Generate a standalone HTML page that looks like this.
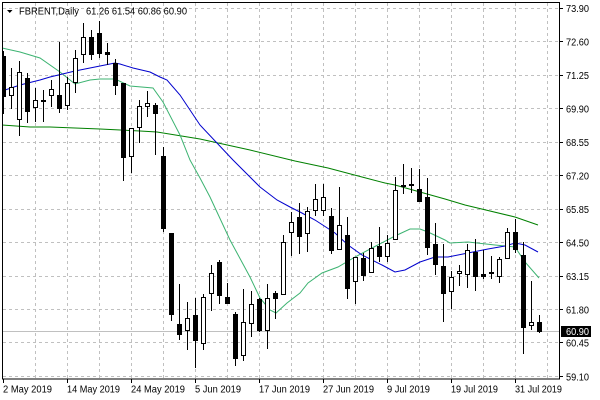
<!DOCTYPE html>
<html><head><meta charset="utf-8"><style>
html,body{margin:0;padding:0;background:#fff;}
svg{display:block;}
text{font-family:"Liberation Sans",sans-serif;font-size:10px;fill:#000;}
</style></head><body>
<svg width="600" height="400" viewBox="0 0 600 400" xmlns="http://www.w3.org/2000/svg">
<defs><clipPath id="pc"><rect x="2" y="2" width="557.5" height="377"/></clipPath></defs>
<rect x="0" y="0" width="600" height="400" fill="#fff"/>
<!-- grid -->
<g stroke="#c0c0c0" stroke-width="1" stroke-dasharray="3,3" fill="none">
<path d="M35.5 3V379M67.5 3V379M99.5 3V379M131.5 3V379M163.5 3V379M195.5 3V379M227.5 3V379M259.5 3V379M291.5 3V379M323.5 3V379M355.5 3V379M387.5 3V379M419.5 3V379M451.5 3V379M483.5 3V379M515.5 3V379M547.5 3V379"/>
<path d="M3 8.5H559M3 41.5H559M3 75.5H559M3 108.5H559M3 142.5H559M3 175.5H559M3 209.5H559M3 242.5H559M3 276.5H559M3 309.5H559M3 342.5H559M3 376.5H559"/>
</g>
<!-- current price line -->
<path d="M3 331.5H559" stroke="#c0c0c0" stroke-width="1"/>
<g clip-path="url(#pc)">
<!-- MAs -->
<polyline fill="none" stroke="#008000" stroke-width="1" points="2,125 30,127 50,127 100,129 140,131 157,132 200,139 250,150 295,161 328,168 362,177 385,183 395,185 420,192 445,199 465,205 515,217 538,225"/>
<polyline fill="none" stroke="#3cb371" stroke-width="1" points="2,48 20,52 40,58 60,72 75,84 90,80 100,79 115,79 130,86 153,88 163,102 180,135 190,160 200,178 210,197 230,240 250,277 260,298 270,310 276,313 287,303 300,293 308,283 322,273 338,267 355,257 372,248 395,236 410,229 420,229 428,232 445,240 450,243 468,242 495,245 515,247 525,262 539,278"/>
<polyline fill="none" stroke="#0000cd" stroke-width="1" points="2,91 20,85 40,80 50,77 75,71 100,66 115,63 120,64 133,68 150,72 160,77 167,80 180,95 200,125 233,160 260,187 277,200 290,207 300,212 315,220 335,233 348,245 362,255 382,265 395,272 405,270 420,262 435,257 448,257 468,253 488,249 505,246 515,243 525,245 538,252"/>
<!-- wicks -->
<path stroke="#000" stroke-width="1" fill="none" d="M3.5 51V114M11.5 68V109M19.5 61V136M27.5 73V123M35.5 88V122M43.5 90V122M51.5 80V107M59.5 42V113M67.5 77V110M75.5 50V93M83.5 23V63M91.5 30V60M99.5 21V58M107.5 43V65M115.5 59V95M123.5 83V181M131.5 128V173M139.5 100V143M147.5 91V117M155.5 103V155M163.5 147V232M171.5 233V321M179.5 284V340M187.5 302V350M195.5 298V368M203.5 294V350M211.5 265V311M219.5 260V304M227.5 283V304M235.5 312V366M243.5 289V361M251.5 291V337M259.5 298V332M267.5 284V349M275.5 291V319M283.5 235V295M291.5 212V256M299.5 203V254M307.5 207V252M315.5 184V216M323.5 184V216M331.5 208V254M339.5 187V250M347.5 217V299M355.5 257V304M363.5 253V281M371.5 242V273M379.5 227V262M387.5 235V262M395.5 177V240M403.5 164V194M411.5 168V193M419.5 169V202M427.5 178V255M435.5 223V275M443.5 244V322M451.5 271V309M459.5 265V286M467.5 244V288M475.5 239V291M483.5 250V279M491.5 256V279M499.5 257V283M507.5 228V259M515.5 219V253M523.5 242V354M531.5 281V330M539.5 315V333"/>
<!-- black bodies -->
<path fill="#000" d="M1 56h5v41h-5zM25 78h5v34h-5zM41 100h5v2h-5zM57 95h5v14h-5zM89 37h5v18h-5zM97 33h5v21h-5zM105 52h5v3h-5zM113 63h5v23h-5zM121 83h5v75h-5zM153 105h5v9h-5zM161 156h5v73h-5zM169 233h5v82h-5zM177 324h5v11h-5zM193 315h5v26h-5zM217 262h5v34h-5zM225 297h5v7h-5zM233 314h5v45h-5zM257 299h5v32h-5zM273 293h5v6h-5zM297 217h5v20h-5zM329 216h5v35h-5zM345 235h5v54h-5zM361 258h5v18h-5zM377 246h5v11h-5zM401 185h5v2h-5zM409 184h5v2h-5zM417 189h5v13h-5zM425 197h5v51h-5zM433 244h5v21h-5zM441 266h5v28h-5zM473 252h5v25h-5zM481 274h5v3h-5zM489 272h5v2h-5zM513 232h5v18h-5zM521 255h5v73h-5zM537 322h5v10h-5z"/>
<!-- hollow bodies -->
<g fill="#fff" stroke="#000" stroke-width="1">
<rect x="9.5" y="87.5" width="4" height="8"/>
<rect x="17.5" y="72.5" width="4" height="47"/>
<rect x="33.5" y="100.5" width="4" height="7"/>
<rect x="49.5" y="89.5" width="4" height="6"/>
<rect x="65.5" y="83.5" width="4" height="22"/>
<rect x="73.5" y="58.5" width="4" height="24"/>
<rect x="81.5" y="37.5" width="4" height="17"/>
<rect x="129.5" y="128.5" width="4" height="28"/>
<rect x="137.5" y="106.5" width="4" height="21"/>
<rect x="145.5" y="103.5" width="4" height="3"/>
<rect x="185.5" y="318.5" width="4" height="12"/>
<rect x="201.5" y="297.5" width="4" height="46"/>
<rect x="209.5" y="273.5" width="4" height="20"/>
<rect x="241.5" y="322.5" width="4" height="33"/>
<rect x="249.5" y="304.5" width="4" height="19"/>
<rect x="265.5" y="298.5" width="4" height="32"/>
<rect x="281.5" y="242.5" width="4" height="52"/>
<rect x="289.5" y="222.5" width="4" height="10"/>
<rect x="305.5" y="211.5" width="4" height="22"/>
<rect x="313.5" y="199.5" width="4" height="11"/>
<rect x="321.5" y="197.5" width="4" height="13"/>
<rect x="337.5" y="225.5" width="4" height="24"/>
<rect x="353.5" y="257.5" width="4" height="24"/>
<rect x="369.5" y="248.5" width="4" height="24"/>
<rect x="385.5" y="243.5" width="4" height="13"/>
<rect x="393.5" y="190.5" width="4" height="49"/>
<rect x="449.5" y="277.5" width="4" height="14"/>
<rect x="457.5" y="271.5" width="4" height="2"/>
<rect x="465.5" y="250.5" width="4" height="24"/>
<rect x="497.5" y="259.5" width="4" height="17"/>
<rect x="505.5" y="232.5" width="4" height="26"/>
<rect x="529.5" y="322.5" width="4" height="3"/>
</g>
</g>
<!-- border -->
<rect x="2.5" y="2.5" width="557" height="376.5" fill="none" stroke="#000" stroke-width="1"/>
<!-- right ticks -->
<path stroke="#000" stroke-width="1" d="M560 8.5h3M560 41.5h3M560 75.5h3M560 108.5h3M560 142.5h3M560 175.5h3M560 209.5h3M560 242.5h3M560 276.5h3M560 309.5h3M560 342.5h3M560 376.5h3"/>
<!-- bottom ticks -->
<path stroke="#000" stroke-width="1" d="M3.5 379v4M67.5 379v4M131.5 379v4M195.5 379v4M259.5 379v4M323.5 379v4M387.5 379v4M451.5 379v4M515.5 379v4"/>
<!-- right labels -->
<text x="566" y="12" textLength="23" lengthAdjust="spacingAndGlyphs">73.90</text>
<text x="566" y="45.5" textLength="23" lengthAdjust="spacingAndGlyphs">72.60</text>
<text x="566" y="79" textLength="23" lengthAdjust="spacingAndGlyphs">71.25</text>
<text x="566" y="112.5" textLength="23" lengthAdjust="spacingAndGlyphs">69.90</text>
<text x="566" y="146" textLength="23" lengthAdjust="spacingAndGlyphs">68.55</text>
<text x="566" y="179.5" textLength="23" lengthAdjust="spacingAndGlyphs">67.20</text>
<text x="566" y="213" textLength="23" lengthAdjust="spacingAndGlyphs">65.85</text>
<text x="566" y="246.5" textLength="23" lengthAdjust="spacingAndGlyphs">64.50</text>
<text x="566" y="280" textLength="23" lengthAdjust="spacingAndGlyphs">63.15</text>
<text x="566" y="313.5" textLength="23" lengthAdjust="spacingAndGlyphs">61.80</text>
<text x="566" y="346.5" textLength="23" lengthAdjust="spacingAndGlyphs">60.45</text>
<text x="566" y="380.5" textLength="23" lengthAdjust="spacingAndGlyphs">59.10</text>
<!-- current price box -->
<rect x="561" y="326" width="30" height="11" fill="#000"/>
<text x="566" y="335" textLength="23" lengthAdjust="spacingAndGlyphs" style="fill:#fff">60.90</text>
<!-- date labels -->
<text x="3" y="392.5" textLength="49" lengthAdjust="spacingAndGlyphs">2 May 2019</text>
<text x="67" y="392.5" textLength="53" lengthAdjust="spacingAndGlyphs">14 May 2019</text>
<text x="131" y="392.5" textLength="54" lengthAdjust="spacingAndGlyphs">24 May 2019</text>
<text x="195" y="392.5" textLength="46" lengthAdjust="spacingAndGlyphs">5 Jun 2019</text>
<text x="259" y="392.5" textLength="51" lengthAdjust="spacingAndGlyphs">17 Jun 2019</text>
<text x="323" y="392.5" textLength="51" lengthAdjust="spacingAndGlyphs">27 Jun 2019</text>
<text x="387" y="392.5" textLength="43" lengthAdjust="spacingAndGlyphs">9 Jul 2019</text>
<text x="451" y="392.5" textLength="47" lengthAdjust="spacingAndGlyphs">19 Jul 2019</text>
<text x="515" y="392.5" textLength="47" lengthAdjust="spacingAndGlyphs">31 Jul 2019</text>
<!-- title -->
<polygon points="7,10 12.5,10 9.75,13" fill="#000"/>
<text x="19" y="14.5" textLength="60" lengthAdjust="spacingAndGlyphs">FBRENT,Daily</text>
<text x="86" y="14.5" textLength="101" lengthAdjust="spacingAndGlyphs">61.26 61.54 60.86 60.90</text>
</svg>
</body></html>
